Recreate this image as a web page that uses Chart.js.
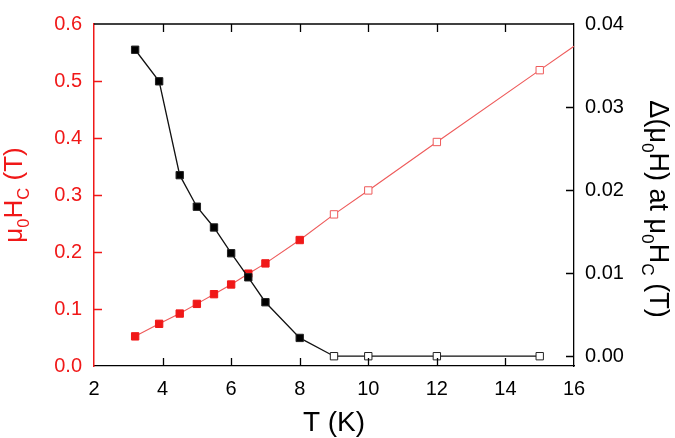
<!DOCTYPE html>
<html>
<head>
<meta charset="utf-8">
<script src="https://cdn.jsdelivr.net/npm/chart.js@4.4.0/dist/chart.umd.min.js"></script>
<style>
  html, body { margin: 0; padding: 0; background: #fff; }
  #chart { display: block; }
</style>
</head>
<body>
<canvas id="chart" width="675" height="438"></canvas>
<script>
// --- Data ---
const temps = [3.2, 3.9, 4.5, 5, 5.5, 6, 6.5, 7, 8, 9, 10, 12, 15];
const critField = [0.052, 0.074, 0.092, 0.109, 0.126, 0.143, 0.162, 0.180, 0.221, 0.266, 0.308, 0.393, 0.519];
const fieldWidth = [0.0369, 0.0331, 0.0218, 0.0180, 0.0155, 0.0124, 0.0095, 0.0065, 0.0022, 0, 0, 0, 0];
const filled = [true, true, true, true, true, true, true, true, true, false, false, false, false];
// red line keeps going past the last point to the frame edge
const critExtT = [15, 16];
const critExtVal = [0.519, 0.561];

const xTicks = [2, 4, 6, 8, 10, 12, 14, 16];
const leftTicks = [0, 0.1, 0.2, 0.3, 0.4, 0.5, 0.6];
const rightTicks = [0, 0.01, 0.02, 0.03, 0.04];

const RED = '#f01818';
const RED_LINE = '#ee5a5a';
const FONT = 'Liberation Sans, Arial, sans-serif';

const pts = (xs, ys) => xs.map((x, i) => ({ x: x, y: ys[i] }));

// --- Frame, inward ticks and rich axis titles ---
function drawRich(ctx, parts, size) {
    const subSize = size * 0.64;
    let w = 0;
    parts.forEach(p => {
        ctx.font = (p.sub ? subSize : size) + 'px ' + FONT;
        p.w = ctx.measureText(p.t).width;
        w += p.w;
    });
    let x = -w / 2;
    parts.forEach(p => {
        ctx.font = (p.sub ? subSize : size) + 'px ' + FONT;
        ctx.fillText(p.t, x, p.sub ? size * 0.28 : 0);
        x += p.w;
    });
}

const framePlugin = {
    id: 'frame',
    afterDraw(chart) {
        const ctx = chart.ctx;
        const a = chart.chartArea;
        const sx = chart.scales.x, sy = chart.scales.y, sy2 = chart.scales.y2;
        const len = 8;
        ctx.save();
        ctx.lineWidth = 1.3;

        // top border
        ctx.strokeStyle = '#000';
        ctx.beginPath();
        ctx.moveTo(a.left, a.top);
        ctx.lineTo(a.right, a.top);
        ctx.stroke();

        // x ticks, bottom and top, pointing inward
        ctx.beginPath();
        xTicks.slice(1, -1).forEach(v => {
            const px = Math.round(sx.getPixelForValue(v)) + 0.5;
            ctx.moveTo(px, a.bottom);
            ctx.lineTo(px, a.bottom - len);
            ctx.moveTo(px, a.top);
            ctx.lineTo(px, a.top + len);
        });
        // right ticks
        rightTicks.slice(0, -1).forEach(v => {
            const py = Math.round(sy2.getPixelForValue(v)) + 0.5;
            ctx.moveTo(a.right, py);
            ctx.lineTo(a.right - len, py);
        });
        ctx.stroke();

        // left ticks in red
        ctx.strokeStyle = RED;
        ctx.beginPath();
        leftTicks.slice(1, -1).forEach(v => {
            const py = Math.round(sy.getPixelForValue(v)) + 0.5;
            ctx.moveTo(a.left, py);
            ctx.lineTo(a.left + len, py);
        });
        ctx.stroke();

        // axis titles
        ctx.textBaseline = 'alphabetic';
        ctx.fillStyle = '#000';
        ctx.save();
        ctx.translate((a.left + a.right) / 2, 431);
        drawRich(ctx, [{ t: 'T (K)' }], 28);
        ctx.restore();

        ctx.fillStyle = RED;
        ctx.save();
        ctx.translate(22, (a.top + a.bottom) / 2);
        ctx.rotate(-Math.PI / 2);
        drawRich(ctx, [{ t: 'μ' }, { t: '0', sub: true }, { t: 'H' }, { t: 'C', sub: true }, { t: ' (T)' }], 26);
        ctx.restore();

        ctx.fillStyle = '#000';
        ctx.save();
        ctx.translate(650, 209);
        ctx.rotate(Math.PI / 2);
        drawRich(ctx, [{ t: 'Δ(μ' }, { t: '0', sub: true }, { t: 'H) at μ' }, { t: '0', sub: true }, { t: 'H' }, { t: 'C', sub: true }, { t: ' (T)' }], 27);
        ctx.restore();

        ctx.restore();
    }
};

const setTicks = list => scale => { scale.ticks = list.map(v => ({ value: v })); };

new Chart(document.getElementById('chart'), {
    type: 'line',
    data: {
        datasets: [{
            label: 'width',
            data: pts(temps, fieldWidth),
            yAxisID: 'y2',
            borderColor: '#111',
            borderWidth: 1.3,
            pointStyle: 'rect',
            pointRadius: 5.2,
            pointBorderWidth: 1,
            pointBorderColor: '#222',
            pointBackgroundColor: filled.map(f => f ? '#000' : '#fff'),
            tension: 0
        }, {
            label: 'Hc',
            data: pts(temps, critField),
            yAxisID: 'y',
            borderColor: RED_LINE,
            borderWidth: 1.1,
            pointStyle: 'rect',
            pointRadius: 5.2,
            pointBorderWidth: 1,
            pointBorderColor: filled.map(f => f ? RED : RED_LINE),
            pointBackgroundColor: filled.map(f => f ? RED : '#fff'),
            tension: 0
        }, {
            label: 'Hc ext',
            data: pts(critExtT, critExtVal),
            yAxisID: 'y',
            borderColor: RED_LINE,
            borderWidth: 1.1,
            pointRadius: 0,
            order: 5
        }]
    },
    options: {
        responsive: false,
        animation: false,
        events: [],
        clip: false,
        layout: { padding: { top: 12, left: 0, right: 0, bottom: 0 } },
        plugins: { legend: { display: false }, tooltip: { enabled: false } },
        scales: {
            x: {
                type: 'linear',
                min: 2, max: 16,
                afterBuildTicks: setTicks(xTicks),
                afterFit: s => { s.height = 72; },
                grid: { drawOnChartArea: false, drawTicks: false },
                border: { color: '#000', width: 1.3 },
                ticks: { color: '#000', padding: 11, maxRotation: 0, font: { family: FONT, size: 20 } }
            },
            y: {
                position: 'left',
                min: 0, max: 0.6,
                afterBuildTicks: setTicks(leftTicks),
                afterFit: s => { s.width = 94; },
                grid: { drawOnChartArea: false, drawTicks: false },
                border: { color: RED, width: 1.5 },
                ticks: { color: RED, padding: 12, font: { family: FONT, size: 20 }, callback: v => v.toFixed(1) }
            },
            y2: {
                position: 'right',
                min: -0.00118, max: 0.04,
                afterBuildTicks: setTicks(rightTicks),
                afterFit: s => { s.width = 101; },
                grid: { drawOnChartArea: false, drawTicks: false },
                border: { color: '#000', width: 1.3 },
                ticks: { color: '#000', padding: 11, font: { family: FONT, size: 20 }, callback: v => v.toFixed(2) }
            }
        }
    },
    plugins: [framePlugin]
});
</script>
</body>
</html>
